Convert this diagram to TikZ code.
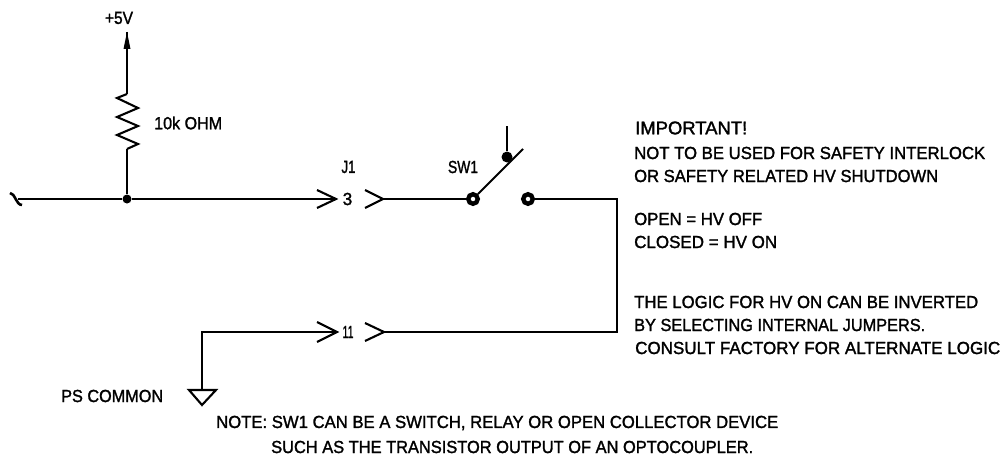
\documentclass[tikz,border=0pt]{standalone}
\usepackage{graphicx}
\usepackage{fontspec}
\setmainfont{Liberation Sans}
\newfontfamily\cadfont[FakeBold=1.6]{Liberation Sans}
\newcommand{\fitw}[2]{\resizebox{#1pt}{\height}{#2}}
\tikzset{
  wire/.style={line width=2.1pt,line join=miter,line cap=butt},
  lbl/.style={inner sep=0pt,font=\cadfont\fontsize{17.5}{18}\selectfont,text=black},
  lbls/.style={lbl,anchor=west},
  ring/.style={circle,draw,line width=4.4pt,fill=white,minimum size=9.5pt,inner sep=0pt},
  blob/.style={circle,fill=black,inner sep=0pt},
  pt/.style={coordinate}
}
\begin{document}
\begin{tikzpicture}[x=1pt,y=-1pt]
\useasboundingbox (0,0) rectangle (1006,460);
% nodes
\node[pt] (tip) at (127,32) {};
\node[pt] (rt) at (127,94) {};
\node[pt] (rb) at (127,149) {};
\node[blob,minimum size=9pt] (junc) at (127,199) {};
\node[pt] (wl) at (18,199) {};
\node[pt] (t1) at (10,193) {};
\node[pt] (t2) at (22,205) {};
\node[pt] (a3) at (336,199) {};
\node[pt] (c3) at (383,199) {};
\node[ring] (s1) at (473,199) {};
\node[ring] (s2) at (528,199) {};
\node[pt] (arm) at (523,149) {};
\node[blob,minimum size=11pt] (act) at (507,157) {};
\node[pt] (acttop) at (507,126) {};
\node[pt] (cr) at (617,199) {};
\node[pt] (cr2) at (617,332) {};
\node[pt] (c11) at (384,332) {};
\node[pt] (a11) at (337,332) {};
\node[pt] (gc) at (202,332) {};
\node[pt] (g) at (202,390) {};
% +5V and resistor
\draw[wire] (rt) -- (tip);
\fill (tip) -- (130.5,49) -- (123.5,49) -- cycle;
\draw[wire] (rt) -- (117,98) -- (138,108) -- (117,117) -- (138,126) -- (117,135) -- (138,144) -- (rb);
\draw[wire] (rb) -- (junc);
% top wire
\draw[wire] (wl) -- (junc) -- (a3);
\draw[wire,line width=2.6pt] (t1) .. controls (15,193) and (16,205) .. (t2);
\draw[wire] (317,190) -- (a3) -- (317,208);
\draw[wire] (365,190) -- (c3) -- (365,208);
\draw[wire] (c3) -- (s1);
\draw[wire] (s1) -- (arm);
\draw[wire] (acttop) -- (act);
\draw[wire] (s2) -- (cr) -- (cr2) -- (c11);
\draw[wire] (365,323) -- (c11) -- (365,341);
% lower wire
\draw[wire] (g) -- (gc) -- (a11);
\draw[wire] (317,322) -- (a11) -- (317,342);
\draw[wire] (g) -- (189,390) -- (202,405) -- (216,390) -- cycle;
% labels
\node[lbl] (v5) at (119,18) {\fitw{28}{+5V}};
\node[lbls] (r) at (154,123) {\fitw{68}{10k OHM}};
\node[lbl] (j1) at (348.5,167) {\fitw{14}{J1}};
\node[lbl] (n3) at (347.5,199) {\fitw{9.5}{3}};
\node[lbl] (sw) at (463,167) {\fitw{30}{SW1}};
\node[lbl] (n11) at (348,332) {\fitw{11}{11}};
\node[lbls] (ps) at (61,396) {\fitw{102}{PS COMMON}};
\node[lbls] (imp) at (635,128) {\fontsize{18.4}{20}\selectfont\fitw{112}{IMPORTANT!}};
\node[lbls] (l1) at (634,153) {\fitw{351}{NOT TO BE USED FOR SAFETY INTERLOCK}};
\node[lbls] (l2) at (634,176) {\fitw{304}{OR SAFETY RELATED HV SHUTDOWN}};
\node[lbls] (l3) at (634,219) {\fitw{128}{OPEN = HV OFF}};
\node[lbls] (l4) at (634,242) {\fitw{143}{CLOSED = HV ON}};
\node[lbls] (l5) at (634,302) {\fitw{344}{THE LOGIC FOR HV ON CAN BE INVERTED}};
\node[lbls] (l6) at (634,325) {\fitw{291}{BY SELECTING INTERNAL JUMPERS.}};
\node[lbls] (l7) at (635,348) {\fitw{365}{CONSULT FACTORY FOR ALTERNATE LOGIC}};
\node[lbls] (n1) at (216,423) {\fitw{562}{NOTE: SW1 CAN BE A SWITCH, RELAY OR OPEN COLLECTOR DEVICE}};
\node[lbls] (n2) at (271,447) {\fitw{482}{SUCH AS THE TRANSISTOR OUTPUT OF AN OPTOCOUPLER.}};
\end{tikzpicture}
\end{document}
